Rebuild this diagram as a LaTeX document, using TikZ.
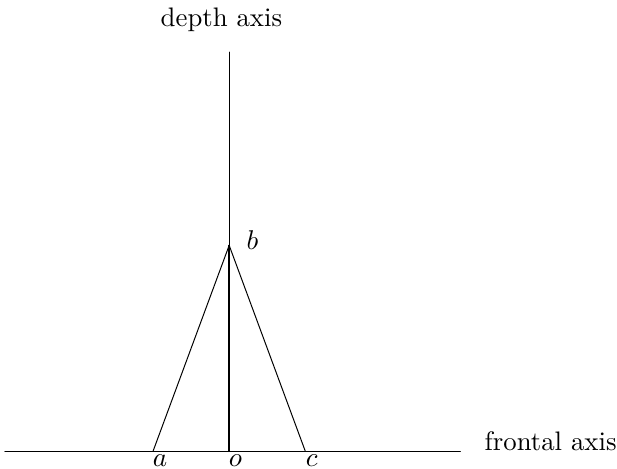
\documentclass[tikz,border=0pt]{standalone}
\usepackage{amsmath}
\usepackage{tikz}

\begin{document}
\begin{tikzpicture}[line cap=round, line join=round,
    lbl/.style={font=\fontsize{10.8}{13}\selectfont}]
  \useasboundingbox (-3.25,-0.24) rectangle (5.50,6.40);

  % axes
  \coordinate (o) at (0,0);
  \coordinate (left) at (-3.18,0);
  \coordinate (right) at (3.28,0);
  \coordinate (top) at (0,5.66);
  \coordinate (a) at (-1.08,0);
  \coordinate (c) at (1.08,0);
  \coordinate (b) at (0,2.92);

  \draw (left) -- (right);
  \draw (b) -- (top);
  \draw[semithick] (o) -- (b);
  \draw (a) -- (b) -- (c);

  \node[lbl] (depthlabel) at (-0.11,6.12) {depth axis};
  \node[lbl,anchor=west] (frontallabel) at (3.50,0.15) {frontal axis};
  \node[lbl] (alabel) at (-0.98,-0.13) {$a$};
  \node[lbl] (olabel) at (0.09,-0.13) {$o$};
  \node[lbl] (clabel) at (1.17,-0.13) {$c$};
  \node[lbl] (blabel) at (0.33,3.0) {$b$};
\end{tikzpicture}
\end{document}
